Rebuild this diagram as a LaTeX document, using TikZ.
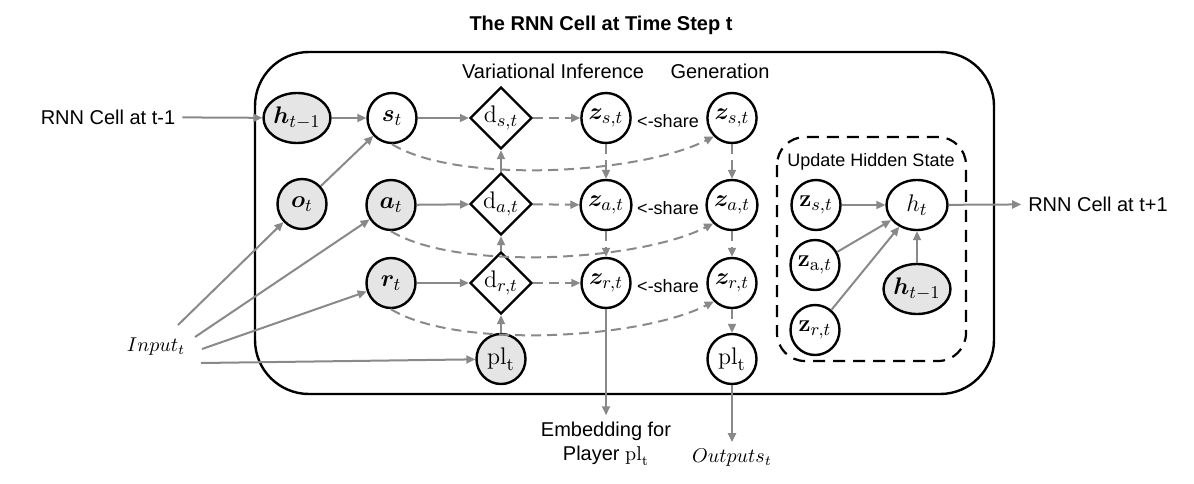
\documentclass[tikz,border=0pt]{standalone}
\usepackage[no-math]{fontspec}
\setmainfont{Liberation Sans}
\usepackage{bm}
\usepackage{xcolor}
\usetikzlibrary{positioning,shapes,arrows.meta}
\definecolor{arrgray}{RGB}{137,137,137}
\definecolor{obsfill}{RGB}{229,229,229}

\begin{document}
\begin{tikzpicture}[x=0.5pt, y=-0.5pt,
		var/.style={draw, line width=1.2pt, ellipse, minimum width=24.5pt, minimum height=25pt, inner sep=0pt, font=\fontsize{13}{15}\selectfont},
		obs/.style={var, fill=obsfill},
		wide/.style={minimum width=30.5pt},
		dec/.style={draw, line width=1.2pt, diamond, aspect=1, minimum size=31pt, inner sep=0pt, font=\fontsize{13}{15}\selectfont},
		arr/.style={-{Triangle[length=4.5pt,width=4pt]}, arrgray, line width=1pt},
		darr/.style={arr, dash pattern=on 5pt off 3pt}]
			\useasboundingbox (0,0) rectangle (1194,483);
			\draw [line width=1.2pt, rounded corners=27pt] (255,52) rectangle (994,394);
			\draw [line width=1.1pt, dash pattern=on 6pt off 4pt, rounded corners=14pt] (777,137) rectangle (966,361);
			\node [font=\bfseries] (title) at (601,25) {The RNN Cell at Time Step t};
			\node (vi) at (553,71) {Variational Inference};
			\node (gen) at (720,71) {Generation};
			\node (upd) at (871,162) {\small Update Hidden State};
			% inference side
			\node (prev) at (108,117) {RNN Cell at t-1};
			\node [obs, wide] (hprev) at (297,118) {$\bm{h}_{t-1}$};
			\node [var] (st) at (392,118) {$\bm{s}_t$};
			\node [obs] (ot) at (302,204) {$\bm{o}_t$};
			\node [obs] (at) at (391,205) {$\bm{a}_t$};
			\node [obs] (rt) at (391,283) {$\bm{r}_t$};
			\node [dec] (ds) at (501,118) {$\mathrm{d}_{s,t}$};
			\node [dec] (da) at (501,204) {$\mathrm{d}_{a,t}$};
			\node [dec] (dr) at (501,283) {$\mathrm{d}_{r,t}$};
			\node [obs] (plin) at (501,359) {$\mathrm{pl}_\mathrm{t}$};
			\node [var] (zsv) at (606,118) {$\bm{z}_{s,t}$};
			\node [var] (zav) at (606,205) {$\bm{z}_{a,t}$};
			\node [var] (zrv) at (606,283) {$\bm{z}_{r,t}$};
			% generation side
			\node [var] (zsg) at (732,118) {$\bm{z}_{s,t}$};
			\node [var] (zag) at (732,205) {$\bm{z}_{a,t}$};
			\node [var] (zrg) at (732,283) {$\bm{z}_{r,t}$};
			\node [var] (plg) at (732,359) {$\mathrm{pl}_\mathrm{t}$};
			\node (share1) at (668,121) {\small <-share};
			\node (share2) at (668,208) {\small <-share};
			\node (share3) at (668,286) {\small <-share};
			% update hidden state
			\node [var] (zsu) at (816,205) {$\mathbf{z}_{s,t}$};
			\node [var] (zau) at (815,265) {$\mathbf{z}_{\mathrm{a},t}$};
			\node [var] (zru) at (815,330) {$\mathbf{z}_{r,t}$};
			\node [var, wide] (ht) at (917,205) {$h_t$};
			\node [obs, wide] (hpu) at (917,289) {$\bm{h}_{t-1}$};
			\node (next) at (1098,204) {RNN Cell at t+1};
			% inputs and outputs
			\node (input) at (156,347) {$Input_t$};
			\coordinate (in1) at (178,325);
			\coordinate (in2) at (195,337);
			\coordinate (in3) at (202,349);
			\coordinate (in4) at (201,363);
			\node [align=center] (emb) at (606,444) {Embedding for\\Player $\mathrm{pl}_\mathrm{t}$};
			\node (outs) at (732,458) {$Outputs_t$};

			\draw [arr] (prev) -- (hprev);
			\draw [arr] (hprev) -- (st);
			\draw [arr] (ot) -- (st);
			\draw [arr] (in1) -- (ot);
			\draw [arr] (in2) -- (at);
			\draw [arr] (in3) -- (rt);
			\draw [arr] (in4) -- (plin);
			\draw [arr] (st) -- (ds);
			\draw [arr] (at) -- (da);
			\draw [arr] (rt) -- (dr);
			\draw [arr] (da) -- (ds);
			\draw [arr] (dr) -- (da);
			\draw [arr] (plin) -- (dr);
			\draw [darr] (ds) -- (zsv);
			\draw [darr] (da) -- (zav);
			\draw [darr] (dr) -- (zrv);
			\draw [darr] (zsv) -- (zav);
			\draw [darr] (zav) -- (zrv);
			\draw [darr] (zsg) -- (zag);
			\draw [darr] (zag) -- (zrg);
			\draw [darr] (zrg) -- (plg);
			\draw [darr] (st.south) .. controls +(65,40) and +(-75,38) .. (zsg.south west);
			\draw [darr] (at.south) .. controls +(65,40) and +(-75,38) .. (zag.south west);
			\draw [darr] (rt.south) .. controls +(65,40) and +(-75,38) .. (zrg.south west);
			\draw [arr] (zrv) -- (emb);
			\draw [arr] (plg) -- (outs);
			\draw [arr] (zsu) -- (ht);
			\draw [arr] (zau) -- (ht);
			\draw [arr] (zru) -- (ht);
			\draw [arr] (hpu) -- (ht);
			\draw [arr] (ht) -- (next);
		\end{tikzpicture}
\end{document}
